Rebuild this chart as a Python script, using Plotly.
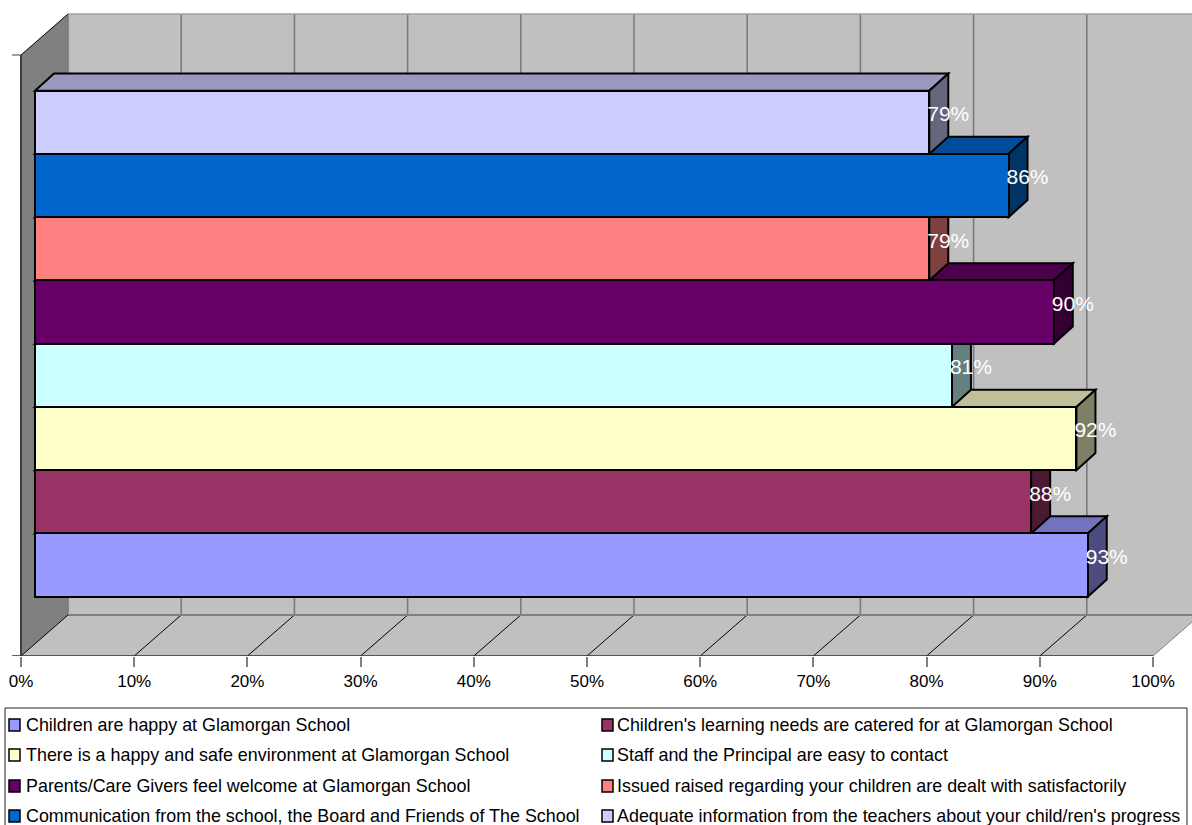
import plotly.graph_objects as go

categories = [
    "Children are happy at Glamorgan School",
    "Children's learning needs are catered for at Glamorgan School",
    "There is a happy and safe environment at Glamorgan School",
    "Staff and the Principal are easy to contact",
    "Parents/Care Givers feel welcome at Glamorgan School",
    "Issued raised regarding your children are dealt with satisfactorily",
    "Communication from the school, the Board and Friends of The School",
    "Adequate information from the teachers about your child/ren's progress",
]
values = [93, 88, 92, 81, 90, 79, 86, 79]
colors = ["#9999FF", "#993366", "#FFFFCC", "#CCFFFF", "#660066", "#FF8080", "#0066CC", "#CCCCFF"]
tick_values = [0, 10, 20, 30, 40, 50, 60, 70, 80, 90, 100]
tick_labels = ["0%", "10%", "20%", "30%", "40%", "50%", "60%", "70%", "80%", "90%", "100%"]

W, H = 1192, 825
FONT = "Liberation Sans"
PX_X0, PX_PER_PCT = 21.0, 11.32       # pixel of 0 %, pixels per percent
PX_FLOOR, PX_TOP = 656.0, 55.0        # front plane bottom / top
PX_BAR0, PX_PITCH = 565.0, 63.25      # centre of the lowest bar, bar pitch
WALL_DX, WALL_DY = 47.0, 41.0         # depth of the chart box
BAR_DX, BAR_DY = 19.0, 17.0           # depth of a bar
BAR_SHIFT = 14.0                      # front of bars relative to axis


def X(px):
    return (px - PX_X0) / PX_PER_PCT


def Y(py):
    return (PX_BAR0 - py) / PX_PITCH


def shade(hex_color, k):
    r, g, b = (int(hex_color[i:i + 2], 16) for i in (1, 3, 5))
    return "#%02X%02X%02X" % (int(r * k), int(g * k), int(b * k))


def poly(points, fill, line="rgba(0,0,0,0)", width=0):
    path = "M" + " L".join(f"{x:.4f},{y:.4f}" for x, y in points) + " Z"
    return dict(type="path", path=path, xref="x", yref="y", fillcolor=fill,
                line=dict(color=line, width=width), layer="below")


def seg(x0, y0, x1, y1, color, width, layer="below"):
    return dict(type="line", x0=x0, y0=y0, x1=x1, y1=y1, xref="x", yref="y",
                line=dict(color=color, width=width), layer=layer)


dx, dy = WALL_DX / PX_PER_PCT, WALL_DY / PX_PITCH
y_floor, y_top = Y(PX_FLOOR), Y(PX_TOP)
x_right = 100.0
shapes = [
    poly([(dx, y_floor + dy), (x_right + dx, y_floor + dy), (x_right + dx, y_top + dy), (dx, y_top + dy)], "#C0C0C0"),
    poly([(0, y_floor), (x_right, y_floor), (x_right + dx, y_floor + dy), (dx, y_floor + dy)], "#C0C0C0"),
    poly([(0, y_floor), (dx, y_floor + dy), (dx, y_top + dy), (0, y_top)], "#808080"),
]
for t in tick_values:
    shapes.append(seg(t + dx, y_floor + dy, t + dx, y_top + dy, "#7A7A7A", 1.6))
    shapes.append(seg(t, y_floor, t + dx, y_floor + dy, "#000000" if t < 100 else "#808080", 1))
shapes += [
    seg(dx, y_floor + dy, x_right + dx, y_floor + dy, "#808080", 2),
    seg(dx, y_top + dy, x_right + dx, y_top + dy, "#A0A0A0", 1.5),
    seg(0, y_top, dx, y_top + dy, "#000000", 1),
    seg(0, y_floor, 0, y_top, "#404040", 2),
    seg(X(12), y_top, 0, y_top, "#404040", 1),
    seg(X(12), y_floor, x_right, y_floor, "#303030", 1.5),
]

base = BAR_SHIFT / PX_PER_PCT
bdx, bdy = BAR_DX / PX_PER_PCT, BAR_DY / PX_PITCH
fig = go.Figure()
for i, (name, v, c) in enumerate(zip(categories, values, colors)):
    end = base + v
    shapes.append(poly([(base, i + .5), (end, i + .5), (end + bdx, i + .5 + bdy), (base + bdx, i + .5 + bdy)],
                       shade(c, 0.75), "#000000", 2))
    shapes.append(poly([(end, i - .5), (end + bdx, i - .5 + bdy), (end + bdx, i + .5 + bdy), (end, i + .5)],
                       shade(c, 0.5), "#000000", 2))
    fig.add_trace(go.Bar(
        x=[v], y=[i], base=base, width=1, orientation="h", name=name,
        marker=dict(color=c, line=dict(color="#000000", width=2)),
        showlegend=False,
    ))

fig.add_trace(go.Scatter(
    x=[base + v + bdx for v in values],
    y=[i + 6.5 / PX_PITCH for i in range(len(values))],
    mode="text", text=[f"{v}%" for v in values],
    textfont=dict(family=FONT, size=21, color="#FFFFFF"),
    textposition="middle center", showlegend=False, cliponaxis=False,
))

# legend box, drawn in page fractions
LEG_L, LEG_T, LEG_R = 5, 708, 1187
shapes.append(dict(type="rect", xref="paper", yref="paper",
                   x0=LEG_L / W, x1=LEG_R / W, y0=-0.05, y1=1 - LEG_T / H,
                   line=dict(color="#202020", width=1), fillcolor="#FFFFFF", layer="above"))
annotations = []
ROWS = [725, 755, 786, 816]
COLS = [(9, 24), (602, 615)]
for i, (name, c) in enumerate(zip(categories, colors)):
    sx, tx = COLS[i % 2]
    ry = ROWS[i // 2]
    shapes.append(dict(type="rect", xref="paper", yref="paper",
                       x0=sx / W, x1=(sx + 11) / W, y0=1 - (ry + 6) / H, y1=1 - (ry - 6) / H,
                       fillcolor=c, line=dict(color="#000000", width=1.5), layer="above"))
    annotations.append(dict(xref="paper", yref="paper", x=tx / W, y=1 - ry / H, xanchor="left",
                            yanchor="middle", showarrow=False, text=name,
                            font=dict(family=FONT, size=17.9, color="#000000")))

plot_bottom = 1 - PX_FLOOR / H
fig.update_layout(
    width=W, height=H, autosize=False,
    margin=dict(l=0, r=0, t=0, b=0),
    paper_bgcolor="#FFFFFF", plot_bgcolor="#FFFFFF",
    barmode="overlay", bargap=0,
    showlegend=False,
    shapes=shapes, annotations=annotations,
    font=dict(family=FONT, color="#000000"),
    xaxis=dict(domain=[0, 1], range=[X(0), X(W)], tickvals=tick_values, ticktext=tick_labels,
               ticks="outside", ticklen=10, tickwidth=1.5, tickcolor="#808080",
               showgrid=False, zeroline=False, showline=False,
               tickfont=dict(family=FONT, size=17, color="#000000"), anchor="y"),
    yaxis=dict(domain=[plot_bottom, 1], range=[y_floor, Y(0)], showticklabels=False,
               showgrid=False, zeroline=False, showline=False, ticks=""),
)
fig.write_html("out.html", config=dict(displayModeBar=False),
               post_script="document.body.style.margin='0';document.body.style.overflow='hidden';")
